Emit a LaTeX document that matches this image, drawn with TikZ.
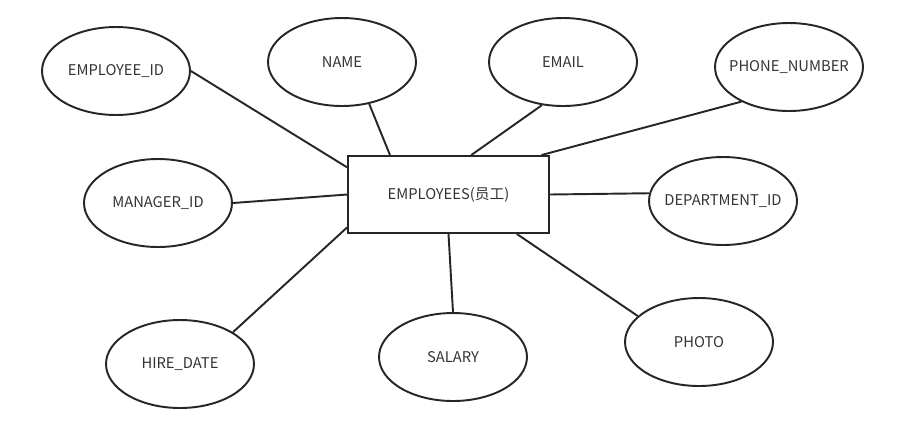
\documentclass[tikz,border=0pt]{standalone}
\usepackage{fontspec}
\setmainfont{Noto Sans CJK SC}
\usepackage{tikz}
\usetikzlibrary{shapes,arrows}
\tikzstyle{line} = [draw, line width=1.1pt, black!85]
\tikzstyle{attr} = [draw, ellipse, line width=1.1pt, black!85, text=black!80, inner sep=0pt, minimum width=2.96cm, minimum height=1.76cm, font=\fontsize{8.4}{10}\selectfont]
\tikzstyle{entity} = [draw, rectangle, line width=1.1pt, black!85, text=black!80, minimum width=4.02cm, minimum height=1.54cm, font=\fontsize{8.4}{10}\selectfont]

\begin{document}
\begin{tikzpicture}[x=0.02cm, y=-0.02cm]
    \useasboundingbox (0,0) rectangle (902,424);
    % Place nodes
    \node [entity] (employees) at (448.5,194.5) {EMPLOYEES(员工)};
    \node [attr] (empid) at (116,71) {\makebox[0pt]{EMPLOYEE\_ID}};
    \node [attr] (name) at (342,62) {\makebox[0pt]{NAME}};
    \node [attr] (email) at (563,62) {\makebox[0pt]{EMAIL}};
    \node [attr] (phone) at (789,67) {\makebox[0pt]{PHONE\_NUMBER}};
    \node [attr] (mgrid) at (158,203) {\makebox[0pt]{MANAGER\_ID}};
    \node [attr] (deptid) at (723,201) {\makebox[0pt]{DEPARTMENT\_ID}};
    \node [attr] (hiredate) at (180,364) {\makebox[0pt]{HIRE\_DATE}};
    \node [attr] (salary) at (453,357) {\makebox[0pt]{SALARY}};
    \node [attr] (photo) at (699,342) {\makebox[0pt]{PHOTO}};

    % Draw edges
    \path [line] (empid.east) -- (employees.165);
    \path [line] (name.-57) -- (employees.146);
    \path [line] (email.-116) -- (employees.60);
    \path [line] (phone.-144) -- (employees.23);
    \path [line] (mgrid.east) -- (employees.west);
    \path [line] (employees.east) -- (deptid.174);
    \path [line] (hiredate.31) -- (employees.198);
    \path [line] (employees.south) -- (salary.north);
    \path [line] (employees.-30) -- (photo.157);
\end{tikzpicture}
\end{document}
